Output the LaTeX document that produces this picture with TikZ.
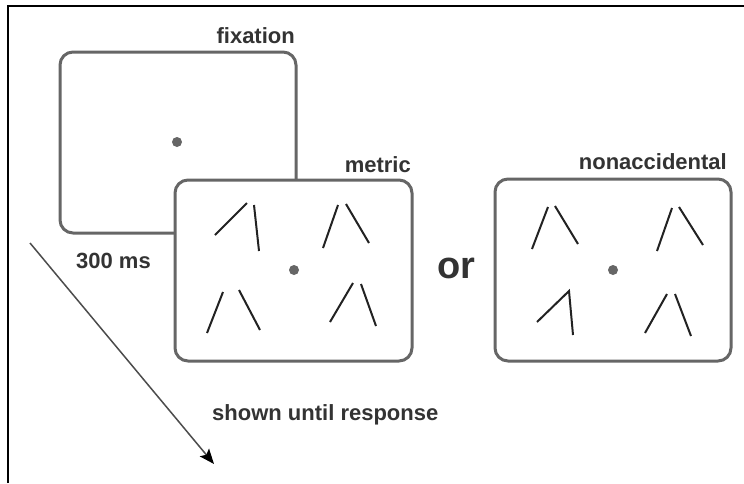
\documentclass[tikz,border=0pt]{standalone}
\usepackage{fontspec}
\setmainfont{Liberation Sans}
\usetikzlibrary{arrows.meta}
\definecolor{boxgray}{HTML}{666666}
\definecolor{txtgray}{HTML}{333333}
\definecolor{linedark}{HTML}{222222}
\begin{document}
\begin{tikzpicture}[x=1pt,y=-1pt,
  screen/.style={draw=boxgray,line width=3pt,rounded corners=13pt,fill=white},
  bar/.style={draw=linedark,line width=2pt},
  dotfix/.style={circle,fill=boxgray,inner sep=0pt,minimum size=10pt},
  lbl/.style={font=\fontsize{22}{24}\selectfont\bfseries,text=txtgray,inner sep=0pt}]
\useasboundingbox (0,0) rectangle (744,483);
\fill[white] (0,0) rectangle (744,483);
% frame
\draw[line width=2.5pt,black] (8,483) -- (8,6) -- (744,6);
% fixation screen
\draw[screen] (60,52) rectangle (296,233);
\node[dotfix] (fdot) at (177,142) {};
\node[lbl,anchor=base east] (tfix) at (295,43) {fixation};
% metric screen
\draw[screen] (175,180) rectangle (412,361);
\node[dotfix] (mdot) at (294,270) {};
\node[lbl,anchor=base east] (tmet) at (411,172) {metric};
\draw[bar] (215,235) -- (247,203);
\draw[bar] (254,205) -- (259,251);
\draw[bar] (323,248) -- (338,205);
\draw[bar] (346,204) -- (369,243);
\draw[bar] (207,333) -- (223,292);
\draw[bar] (239,290) -- (260,330);
\draw[bar] (330,322) -- (353,283);
\draw[bar] (361,284) -- (376,326);
% or
\node[font=\fontsize{38}{40}\selectfont\bfseries,text=txtgray,inner sep=0pt,anchor=base west] (tor) at (437,278) {or};
% nonaccidental screen
\draw[screen] (495,179) rectangle (731,361);
\node[dotfix] (ndot) at (613,270) {};
\node[lbl,anchor=base east] (tnon) at (727,169) {nonaccidental};
\draw[bar] (532,249) -- (548,207);
\draw[bar] (555,206) -- (578,244);
\draw[bar] (657,251) -- (672,208);
\draw[bar] (679,207) -- (703,245);
\draw[bar,line join=miter] (537,322) -- (569,291) -- (573,335);
\draw[bar] (645,333) -- (667,294);
\draw[bar] (675,294) -- (691,336);
% time arrow
\coordinate (astart) at (30,243);
\coordinate (aend) at (214,464);
\draw[draw=black!70,line width=1.5pt,-{Stealth[length=15pt,width=12pt,inset=3pt,color=black]}] (astart) -- (aend);
\node[lbl,anchor=base west] (t300) at (76,268) {300 ms};
\node[lbl,anchor=base west] (tshow) at (212,420) {shown until response};
\end{tikzpicture}
\end{document}
